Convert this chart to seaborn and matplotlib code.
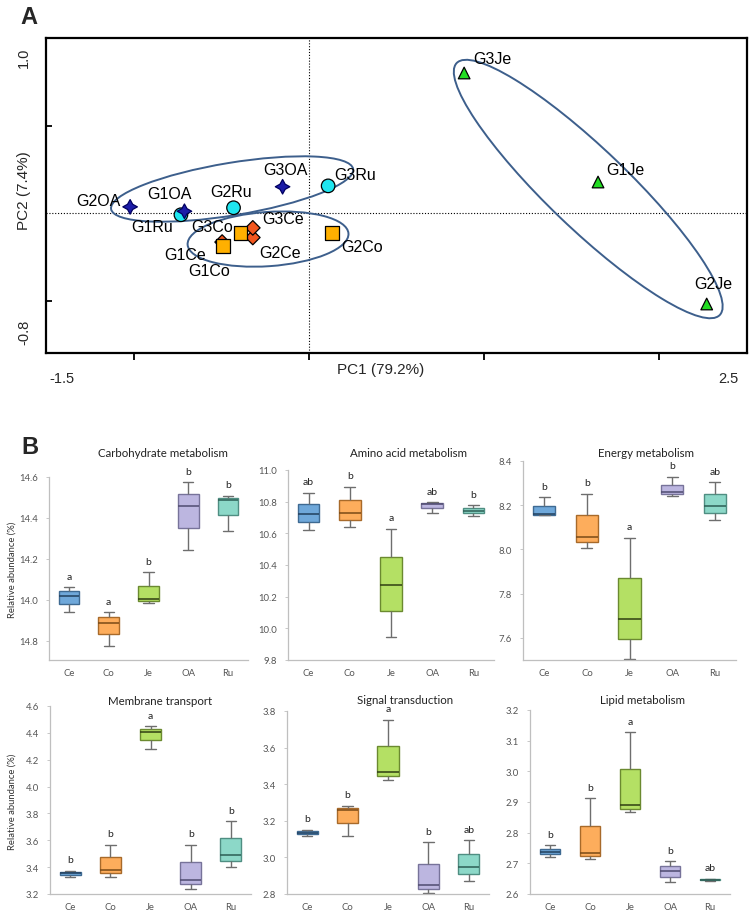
import matplotlib
matplotlib.use("Agg")
import numpy as np
import pandas as pd
import seaborn as sns
import matplotlib.pyplot as plt
from matplotlib.patches import Ellipse

# ---------------- data: panel A (PCA) ----------------
sample_labels = ["G1Ce", "G2Ce", "G3Ce", "G1Co", "G2Co", "G3Co",
                 "G1Je", "G2Je", "G3Je", "G1Ru", "G2Ru", "G3Ru",
                 "G1OA", "G2OA", "G3OA"]
sample_groups = ["Ce", "Ce", "Ce", "Co", "Co", "Co",
                 "Je", "Je", "Je", "Ru", "Ru", "Ru",
                 "OA", "OA", "OA"]
pc1_scores = [-0.495, -0.32, -0.32, -0.49, 0.13, -0.39,
              1.65, 2.27, 0.886, -0.73, -0.43, 0.11,
              -0.71, -1.02, -0.15]
pc2_scores = [-0.166, -0.14, -0.085, -0.19, -0.115, -0.115,
              0.177, -0.52, 0.80, -0.01, 0.03, 0.155,
              0.01, 0.035, 0.15]

# cluster ellipses: centre x, centre y, width, height, angle
ellipse_cx = [-0.438, -0.233, 1.594]
ellipse_cy = [0.137, -0.149, 0.137]
ellipse_w = [1.40, 0.92, 2.08]
ellipse_h = [0.30, 0.31, 0.457]
ellipse_angle = [9.4, 4.0, -43.8]

# ---------------- data: panel B (boxplots) ----------------
habitats = ["Ce", "Co", "Je", "OA", "Ru"]
carbohydrate = {"Ce": [13.943, 14.021, 14.062], "Co": [13.777, 13.889, 13.940],
                "Je": [13.984, 14.003, 14.135], "OA": [14.244, 14.460, 14.574],
                "Ru": [14.338, 14.488, 14.509]}
amino_acid = {"Ce": [10.619, 10.719, 10.856], "Co": [10.640, 10.729, 10.894],
              "Je": [9.946, 10.274, 10.630], "OA": [10.731, 10.788, 10.795],
              "Ru": [10.710, 10.742, 10.778]}
energy = {"Ce": [8.157, 8.159, 8.235], "Co": [8.0075, 8.057, 8.251],
          "Je": [7.504, 7.684, 8.054], "OA": [8.242, 8.259, 8.328],
          "Ru": [8.134, 8.197, 8.304]}
membrane = {"Ce": [3.325, 3.355, 3.375], "Co": [3.330, 3.380, 3.5675],
            "Je": [4.2825, 4.405, 4.450], "OA": [3.2375, 3.3075, 3.5675],
            "Ru": [3.3975, 3.4875, 3.7425]}
signal = {"Ce": [3.118, 3.136, 3.151], "Co": [3.116, 3.258, 3.282],
          "Je": [3.424, 3.469, 3.751], "OA": [2.805, 2.849, 3.082],
          "Ru": [2.869, 2.947, 3.095]}
lipid = {"Ce": [2.722, 2.736, 2.759], "Co": [2.713, 2.733, 2.912],
         "Je": [2.866, 2.889, 3.127], "OA": [2.638, 2.675, 2.7065],
         "Ru": [2.6424, 2.6457, 2.650]}

carbohydrate_letters = ["a", "a", "b", "b", "b"]
amino_acid_letters = ["ab", "b", "a", "ab", "b"]
energy_letters = ["b", "b", "a", "b", "ab"]
membrane_letters = ["b", "b", "a", "b", "b"]
signal_letters = ["b", "b", "a", "b", "ab"]
lipid_letters = ["b", "b", "a", "b", "ab"]

panel_titles = ["Carbohydrate metabolism", "Amino acid metabolism", "Energy metabolism",
                "Membrane transport", "Signal transduction", "Lipid metabolism"]
y_ticks = [[13.8, 14.0, 14.2, 14.4, 14.6],
           [9.8, 10.0, 10.2, 10.4, 10.6, 10.8, 11.0],
           [7.6, 7.8, 8.0, 8.2, 8.4],
           [3.2, 3.4, 3.6, 3.8, 4.0, 4.2, 4.4, 4.6],
           [2.8, 3.0, 3.2, 3.4, 3.6, 3.8],
           [2.6, 2.7, 2.8, 2.9, 3.0, 3.1, 3.2]]
y_tick_labels = [["14.8", "14.0", "14.2", "14.4", "14.6"],
                 ["9.8", "10.0", "10.2", "10.4", "10.6", "10.8", "11.0"],
                 ["7.6", "7.8", "8.0", "8.2", "8.4"],
                 ["3.2", "3.4", "3.6", "3.8", "4.0", "4.2", "4.4", "4.6"],
                 ["2.8", "3.0", "3.2", "3.4", "3.6", "3.8"],
                 ["2.6", "2.7", "2.8", "2.9", "3.0", "3.1", "3.2"]]

# ---------------- styling ----------------
sns.set_theme(style="white")
plt.rcParams["font.family"] = ["Liberation Sans", "DejaVu Sans"]

W, H = 750, 912
fig = plt.figure(figsize=(W / 100, H / 100), dpi=100)


def add_ax(l, r, t, b):
    return fig.add_axes([l / W, 1 - b / H, (r - l) / W, (b - t) / H])


def ftext(x, y, s, **kw):
    fig.text(x / W, 1 - y / H, s, **kw)


# ---------------- panel A ----------------
axA = add_ax(46, 747, 39, 354)
pca_df = pd.DataFrame({"PC1": pc1_scores, "PC2": pc2_scores,
                       "label": sample_labels, "group": sample_groups})
draw_order = ["Ce", "Co", "Je", "Ru", "OA"]
pca_df["order"] = pca_df["group"].map({g: i for i, g in enumerate(draw_order)})
pca_df = pca_df.sort_values("order", kind="stable").reset_index(drop=True)

pca_palette = {"Ce": "#F2561D", "Co": "#FFB000", "Je": "#22DD22",
               "Ru": "#1EE6F0", "OA": "#1C1CA8"}
pca_markers = {"Ce": "D", "Co": "s", "Je": "^", "Ru": "o", "OA": (4, 1, 0)}
pca_sizes = {"Ce": 55, "Co": 100, "Je": 70, "Ru": 95, "OA": 110}
edge_cols = ["#000060" if g == "OA" else "black" for g in pca_df["group"]]

for cx, cy, w, h, a in zip(ellipse_cx, ellipse_cy, ellipse_w, ellipse_h, ellipse_angle):
    axA.add_patch(Ellipse((cx, cy), w, h, angle=a, fill=False,
                          ec="#3D5F8C", lw=1.4, zorder=2))

axA.axvline(0, color="black", ls=(0, (1, 1.6)), lw=0.8, zorder=1)
axA.axhline(0, color="black", ls=(0, (1, 1.6)), lw=0.8, zorder=1)

sns.scatterplot(data=pca_df, x="PC1", y="PC2", hue="group", style="group",
                size="group", sizes=pca_sizes, palette=pca_palette,
                markers=pca_markers, edgecolor=edge_cols, linewidth=0.9,
                legend=False, ax=axA, zorder=4)

label_offsets = {"G2OA": (-32, 6), "G1OA": (-15, 18), "G1Ru": (-29, -12),
                 "G2Ru": (-2, 16), "G3OA": (3, 17), "G3Ru": (27, 11),
                 "G3Co": (-28, 7), "G3Ce": (30, 9), "G2Ce": (27, -15),
                 "G1Ce": (-37, -12), "G1Co": (-14, -24), "G2Co": (30, -13),
                 "G3Je": (28, 14), "G1Je": (27, 13), "G2Je": (7, 20)}
for _, row in pca_df.iterrows():
    dx, dy = label_offsets[row["label"]]
    axA.annotate(row["label"], (row["PC1"], row["PC2"]), xytext=(dx, dy),
                 textcoords="offset pixels", ha="center", va="center",
                 fontsize=11.5, color="black", zorder=5)

axA.set_xlim(-1.5, 2.5)
axA.set_ylim(-0.8, 1.0)
axA.set_xticks([-1, 0, 1, 2])
axA.set_yticks([-0.5, 0.5])
axA.set_xticklabels([])
axA.set_yticklabels([])
axA.tick_params(axis="x", direction="out", length=5, width=1.3, color="black", bottom=True)
axA.tick_params(axis="y", direction="in", length=4, width=1.3, color="black", left=True)
axA.set_xlabel("")
axA.set_ylabel("")
for sp in axA.spines.values():
    sp.set_color("black")
    sp.set_linewidth(1.6)

ftext(29, 17, "A", fontsize=17, fontweight="bold", ha="center", va="center")
ftext(62, 379, "-1.5", fontsize=10.5, ha="center", va="center")
ftext(728, 379, "2.5", fontsize=10.5, ha="center", va="center")
ftext(381, 370, "PC1 (79.2%)", fontsize=11, ha="center", va="center")
ftext(24, 58, "1.0", fontsize=10.5, ha="center", va="center", rotation=90)
ftext(24, 332, "-0.8", fontsize=10.5, ha="center", va="center", rotation=90)
ftext(24, 191, "PC2 (7.4%)", fontsize=11, ha="center", va="center", rotation=90)

# ---------------- panel B ----------------
box_fill = {"Ce": "#6FA8DA", "Co": "#FDAD5C", "Je": "#B4E064",
            "OA": "#BCB6E0", "Ru": "#8CD8C8"}
box_edge = {"Ce": "#3E6A92", "Co": "#A86A2A", "Je": "#6B8A30",
            "OA": "#77739A", "Ru": "#4F8E82"}
box_median = {"Ce": "#22405E", "Co": "#7A4A16", "Je": "#2F3F12",
              "OA": "#4F4B70", "Ru": "#2C5E55"}

datasets = [carbohydrate, amino_acid, energy, membrane, signal, lipid]
letters_all = [carbohydrate_letters, amino_acid_letters, energy_letters,
               membrane_letters, signal_letters, lipid_letters]
ax_boxes = [(49, 248, 478, 661), (288, 494, 471, 661), (523, 736, 462, 661),
            (50, 251, 707, 895), (287, 489, 712, 895), (530, 730, 711, 895)]
y_limits = [(13.707, 14.6), (9.8, 11.0), (7.5, 8.4),
            (3.2, 4.6), (2.8, 3.8), (2.6, 3.2)]
title_pos = [(163, 454), (408, 454), (646, 454),
             (160, 702), (405, 700), (643, 701)]

fontB = ["Lato", "DejaVu Sans"]

for k in range(6):
    ax = add_ax(*ax_boxes[k])
    d = datasets[k]
    df = pd.DataFrame([(h, v) for h in habitats for v in d[h]],
                      columns=["habitat", "value"])
    sns.boxplot(data=df, x="habitat", y="value", hue="habitat", order=habitats,
                hue_order=habitats, palette=box_fill, saturation=1, width=0.52,
                whis=(0, 100), linewidth=1.0, linecolor="#555555", legend=False,
                ax=ax, whiskerprops=dict(color="#6E6E6E"),
                capprops=dict(color="#6E6E6E"), showfliers=False)
    for patch, h in zip(ax.patches, habitats):
        patch.set_edgecolor(box_edge[h])
    n_lines = len(ax.lines)
    per = n_lines // len(habitats)
    for i, h in enumerate(habitats):
        seg = ax.lines[i * per:(i + 1) * per]
        if len(seg) >= 5:
            seg[4].set_color(box_median[h])
            seg[4].set_linewidth(1.1)
    for i, h in enumerate(habitats):
        ax.annotate(letters_all[k][i], (i, max(d[h])), xytext=(0, 11),
                    textcoords="offset pixels", ha="center", va="center",
                    fontsize=7.5, color="#222222", family=fontB)
    ax.set_xlim(-0.5, 4.5)
    ax.set_ylim(*y_limits[k])
    ax.set_yticks(y_ticks[k])
    ax.set_yticklabels(y_tick_labels[k], family=fontB, fontsize=6.8, color="#555555")
    ax.set_xticks(range(5))
    ax.set_xticklabels(habitats, family=fontB, fontsize=6.8, color="#555555")
    ax.tick_params(axis="y", length=2, width=0.6, color="#BFBFBF", pad=6, left=True)
    ax.tick_params(axis="x", length=0, pad=6)
    ax.set_xlabel("")
    ax.set_ylabel("")
    for side in ["top", "right"]:
        ax.spines[side].set_visible(False)
    for side in ["left", "bottom"]:
        ax.spines[side].set_color("#BFBFBF")
        ax.spines[side].set_linewidth(0.9)
    tx, ty = title_pos[k]
    ftext(tx, ty, panel_titles[k], fontsize=8.3, ha="center", va="center",
          family=fontB, color="#222222")

ftext(30, 448, "B", fontsize=17, fontweight="bold", ha="center", va="center")
ftext(12, 570, "Relative abundance (%)", fontsize=6.8, rotation=90,
      ha="center", va="center", family=fontB, color="#333333")
ftext(12, 802, "Relative abundance (%)", fontsize=6.8, rotation=90,
      ha="center", va="center", family=fontB, color="#333333")

fig.savefig("out.png", dpi=100)
